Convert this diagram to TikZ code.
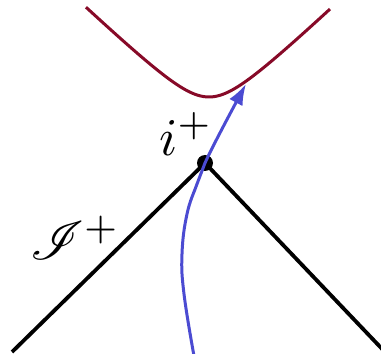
\documentclass[tikz,border=0pt]{standalone}
\usepackage{mathrsfs}
\usepackage{graphicx}
\usetikzlibrary{arrows.meta}
\definecolor{hypred}{RGB}{135,10,40}
\definecolor{worldblue}{RGB}{75,75,210}
\begin{document}
\begin{tikzpicture}[x=1pt,y=1pt,
  edge/.style={line width=3.8pt},
  lbl/.style={inner sep=0pt}]
\useasboundingbox (0,0) rectangle (381,354);
\node[circle, fill=black, inner sep=0pt, minimum size=16pt] (ip) at (205,191) {};
\coordinate (L) at (12,2);
\coordinate (R) at (385,2);
\draw[edge] (L) -- (ip.center) -- (R);
\draw[hypred, line width=3pt, domain=-123:121, samples=80, smooth]
  plot ({209+\x}, {257+0.95*(sqrt(32.8*32.8+\x*\x)-32.8)});
\draw[worldblue, line width=3pt, -{Latex[length=21pt,width=15pt]}]
  plot[smooth, tension=0.7] coordinates {(194,-2) (184,60) (182,100) (187,140) (197,170) (205,191) (222,225) (246,270)};
\node[lbl] (ilabel) at (186,220) {\scalebox{5.3}{$i^+$}};
\node[lbl] (scri) at (75,116) {\scalebox{5.4}{$\mathscr{I}^+$}};
\end{tikzpicture}
\end{document}
